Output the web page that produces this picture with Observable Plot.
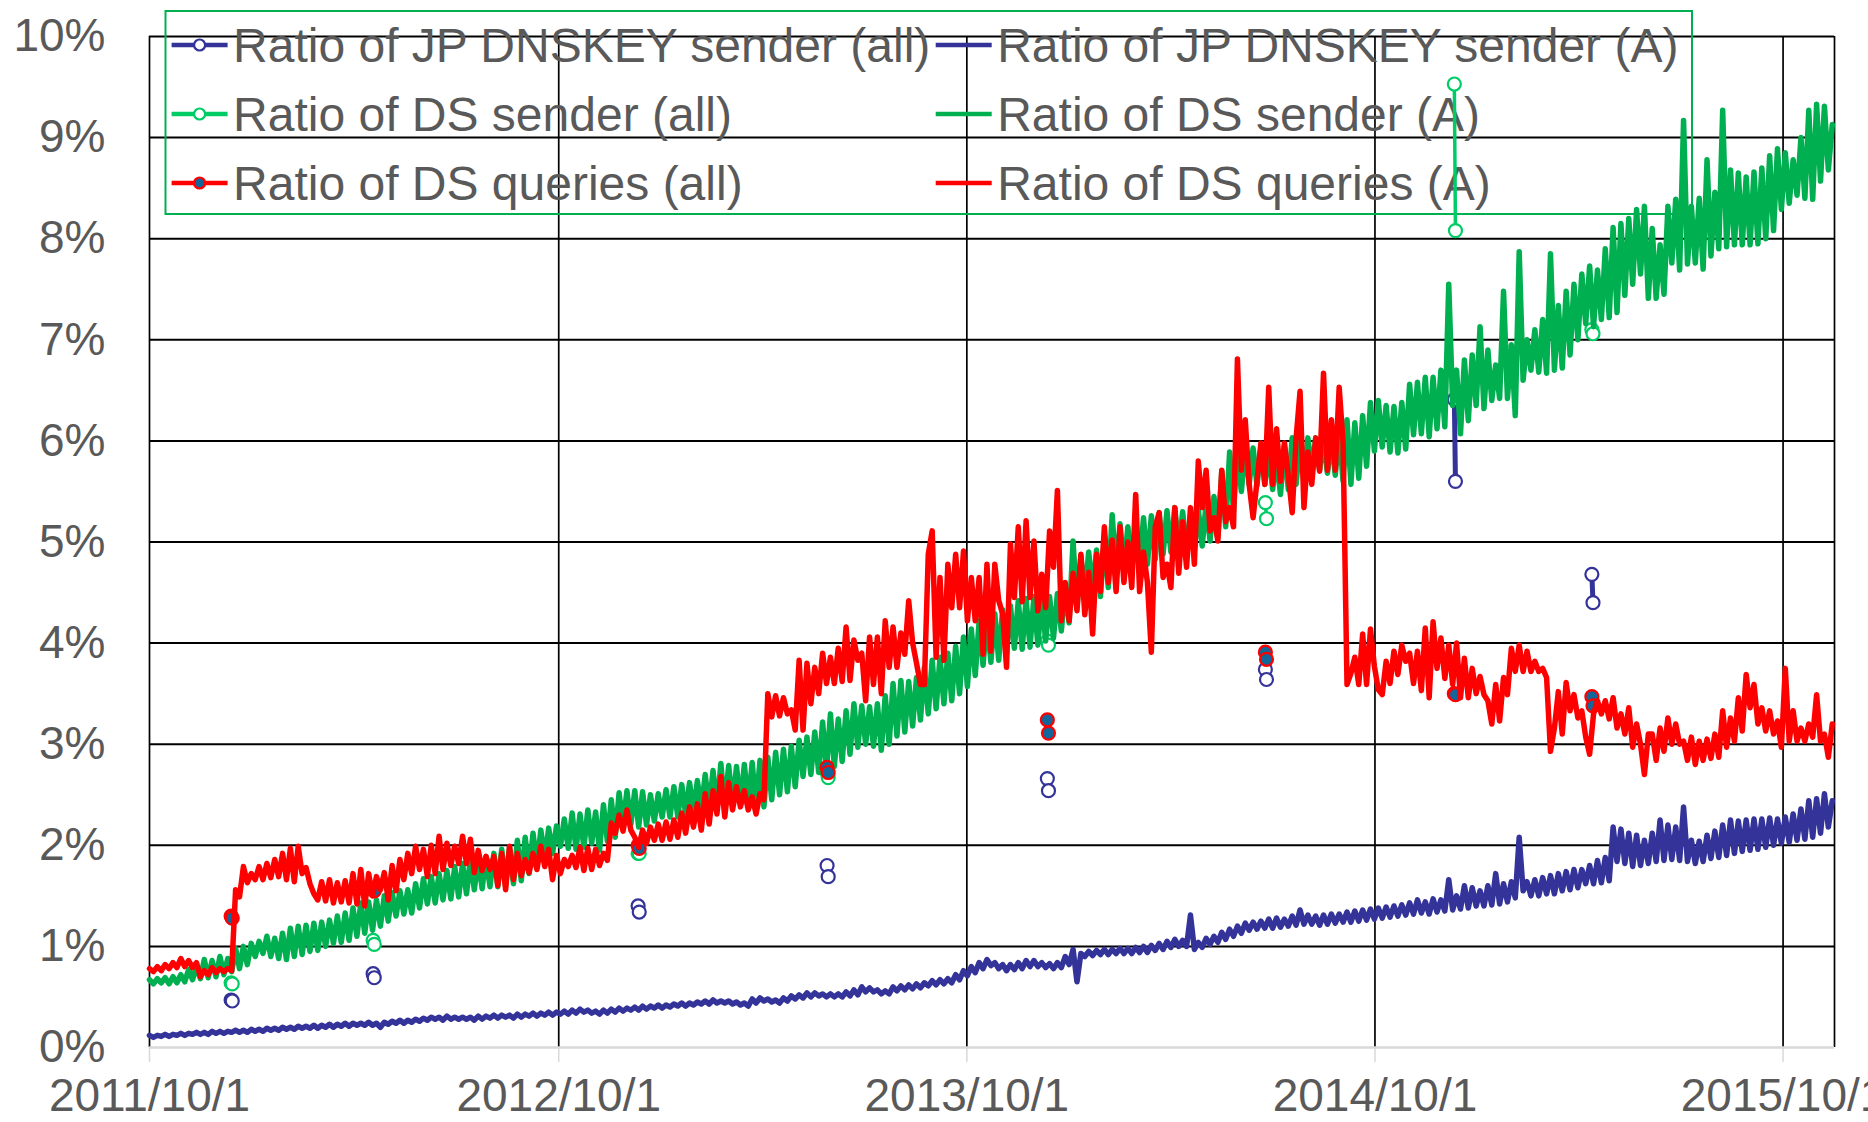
<!DOCTYPE html>
<html><head><meta charset="utf-8">
<script src="https://cdn.jsdelivr.net/npm/d3@7"></script>
<script src="https://cdn.jsdelivr.net/npm/@observablehq/plot@0.6"></script>
<style>
html,body{margin:0;padding:0;background:#fff;overflow:hidden;}
#wrap{position:relative;width:1868px;height:1122px;}
</style></head><body><div id="wrap"></div>
<script>
// ---- data (values in percent), one sample every 3.5 days (weekly peak / trough) ----
const startDate = "2011-10-01";
const stepDays = 3.5;
const xEnd = "2015-11-16";

const dsSenderA = [
0.67,0.63,0.68,0.64,0.69,0.63,0.70,0.64,0.72,0.65,0.77,0.67,0.80,0.68,0.87,0.69,0.86,0.70,0.90,0.72,
0.88,0.75,0.98,0.78,1.00,0.82,1.03,0.90,1.05,0.93,1.10,0.90,1.08,0.88,1.13,0.87,1.18,0.90,1.20,0.92,
1.21,0.95,1.23,0.96,1.24,1.00,1.26,1.03,1.30,1.04,1.33,1.06,1.38,1.10,1.43,1.13,1.44,1.16,1.46,1.20,
1.50,1.25,1.53,1.30,1.55,1.32,1.56,1.33,1.62,1.38,1.67,1.42,1.69,1.43,1.72,1.46,1.75,1.47,1.79,1.49,
1.82,1.52,1.86,1.56,1.87,1.57,1.89,1.59,1.92,1.59,1.96,1.60,1.98,1.62,2.05,1.65,2.08,1.72,2.12,1.80,
2.15,1.86,2.17,1.92,2.19,1.99,2.26,1.97,2.32,1.96,2.31,1.98,2.35,2.02,2.33,1.95,2.40,2.04,2.45,2.08,
2.52,2.20,2.54,2.21,2.54,2.18,2.53,2.20,2.50,2.24,2.51,2.28,2.55,2.28,2.58,2.28,2.60,2.31,2.62,2.33,
2.64,2.35,2.70,2.36,2.74,2.37,2.81,2.38,2.79,2.39,2.78,2.41,2.80,2.40,2.82,2.38,2.84,2.38,2.87,2.45,
2.92,2.50,2.95,2.53,2.98,2.58,3.04,2.68,3.07,2.70,3.12,2.72,3.22,2.75,3.30,2.78,3.25,2.83,3.33,2.90,
3.40,2.97,3.38,3.00,3.37,2.98,3.40,2.94,3.48,3.00,3.60,3.08,3.63,3.12,3.62,3.18,3.66,3.24,3.76,3.30,
3.83,3.35,3.86,3.40,3.90,3.43,3.97,3.50,4.06,3.57,4.14,3.68,4.22,3.78,4.25,3.81,4.29,3.83,4.33,3.90,
4.37,3.95,4.42,3.94,4.44,3.96,4.46,3.98,4.45,4.02,4.46,4.05,4.49,4.12,4.55,4.20,5.01,4.35,4.86,4.48,
4.90,4.50,4.92,4.46,5.05,4.55,5.27,4.68,5.18,4.72,5.15,4.74,5.20,4.76,5.24,4.78,5.26,4.83,5.29,4.88,
5.31,4.90,5.34,4.92,5.30,4.92,5.24,4.92,5.32,4.96,5.38,5.01,5.45,5.05,5.70,5.15,5.89,5.30,5.90,5.50,
5.94,5.57,5.93,5.56,5.94,5.57,5.90,5.52,5.84,5.47,5.95,5.52,6.03,5.57,6.02,5.63,6.03,5.70,6.03,5.71,
6.02,5.68,6.03,5.66,6.10,5.60,6.21,5.57,6.18,5.63,6.25,5.75,6.38,5.90,6.40,5.94,6.35,5.89,6.34,5.88,
6.38,5.92,6.56,6.06,6.58,6.07,6.63,6.04,6.63,6.12,6.70,6.14,7.55,6.35,6.70,6.07,6.80,6.20,6.85,6.35,
7.13,6.32,6.90,6.40,6.75,6.42,7.48,6.42,6.95,6.25,7.87,6.60,7.00,6.70,7.10,6.68,7.20,6.67,7.85,6.70,
7.34,6.72,7.48,6.85,7.55,7.00,7.65,7.16,7.73,7.13,7.69,7.20,7.90,7.22,8.11,7.27,8.15,7.44,8.20,7.55,
8.29,7.65,8.32,7.41,8.10,7.41,7.94,7.45,8.32,7.76,8.39,7.69,9.17,7.75,8.32,7.76,8.40,7.70,8.78,7.83,
8.46,7.90,9.27,7.92,8.68,7.94,8.65,7.94,8.61,7.94,8.66,7.95,8.70,8.00,8.82,8.08,8.89,8.29,8.85,8.35,
8.78,8.43,9.00,8.40,9.27,8.39,9.33,8.57,9.31,8.68,9.13];

const dsQueriesA = [
0.78,0.75,0.80,0.76,0.82,0.78,0.84,0.79,0.88,0.80,0.86,0.79,0.84,0.70,0.76,0.72,0.79,0.74,0.78,0.75,
0.78,0.76,1.56,1.49,1.79,1.63,1.72,1.66,1.79,1.66,1.82,1.68,1.86,1.69,1.92,1.66,1.97,1.64,1.99,1.72,
1.78,1.62,1.52,1.46,1.64,1.45,1.66,1.43,1.63,1.44,1.65,1.43,1.72,1.42,1.76,1.40,1.72,1.50,1.69,1.56,
1.73,1.46,1.80,1.55,1.86,1.66,1.92,1.72,1.99,1.76,1.96,1.69,2.00,1.72,2.09,1.76,2.02,1.80,1.99,1.82,
2.09,1.82,2.06,1.73,1.95,1.75,1.89,1.76,1.89,1.60,1.92,1.56,1.99,1.66,1.92,1.70,1.86,1.73,1.92,1.76,
1.99,1.79,1.96,1.66,1.90,1.72,1.86,1.79,1.90,1.78,1.98,1.75,1.97,1.76,1.96,1.80,1.92,1.85,2.22,2.12,
2.30,2.14,2.35,2.15,2.08,1.98,2.15,2.02,2.18,2.05,2.21,2.05,2.23,2.06,2.25,2.08,2.32,2.12,2.38,2.18,
2.41,2.15,2.51,2.21,2.54,2.31,2.68,2.28,2.62,2.35,2.58,2.38,2.54,2.35,2.48,2.31,2.51,2.45,3.50,3.27,
3.48,3.28,3.46,3.30,3.34,3.14,3.83,3.14,3.80,3.40,3.76,3.50,3.90,3.60,3.86,3.60,3.95,3.62,4.16,3.63,
4.03,3.83,3.90,3.43,4.06,3.59,4.06,3.50,4.22,3.76,4.16,3.76,4.10,3.89,4.42,4.00,3.80,3.59,3.59,4.88,
5.11,3.86,4.65,3.83,4.78,4.35,4.88,4.35,4.91,4.22,4.65,4.22,4.65,3.89,4.78,3.92,4.78,4.42,4.29,3.76,
4.98,4.45,5.15,4.41,5.21,4.45,5.01,4.32,4.68,4.35,5.11,4.75,5.51,4.22,4.60,4.22,4.69,4.32,4.88,4.28,
4.70,4.09,4.88,4.51,5.15,4.60,5.02,4.51,5.15,4.60,5.00,4.55,5.47,4.51,4.90,4.60,3.91,5.15,5.29,4.65,
4.78,4.55,5.34,4.69,5.20,4.75,5.34,4.78,5.80,5.34,5.71,5.11,5.24,5.01,5.71,5.20,5.34,5.15,6.81,5.71,
6.21,5.57,5.24,5.60,5.98,5.57,6.53,5.57,6.12,5.60,5.98,5.66,5.29,6.03,6.49,5.34,5.89,5.57,6.03,5.70,
6.67,5.71,6.21,5.71,6.53,5.98,3.59,3.70,3.86,3.59,4.09,3.59,4.14,3.77,3.54,3.49,3.82,3.60,3.92,3.69,
3.98,3.82,3.90,3.60,3.92,3.53,4.15,3.46,4.21,3.75,4.05,3.65,3.98,3.59,4.00,3.46,3.85,3.46,3.75,3.50,
3.67,3.49,3.43,3.20,3.59,3.23,3.66,3.49,3.95,3.72,3.98,3.72,3.92,3.72,3.82,3.72,3.75,3.66,2.93,3.16,
3.52,3.10,3.61,3.33,3.49,3.26,3.33,3.07,2.90,3.30,3.43,3.30,3.43,3.25,3.46,3.16,3.30,3.10,3.36,2.97,
3.20,3.00,2.70,3.10,3.10,2.84,3.16,2.93,3.26,3.00,3.20,3.00,3.03,2.84,3.07,2.80,3.03,2.84,3.05,2.86,
3.10,2.87,3.33,2.97,3.26,3.03,3.46,3.13,3.69,3.36,3.59,3.20,3.36,3.13,3.33,3.10,3.23,2.97,3.75,3.03,
3.33,3.03,3.16,3.03,3.20,3.07,3.49,3.03,3.10,2.87,3.20];

const dnskeyA = [
0.12,0.10,0.12,0.11,0.13,0.11,0.13,0.12,0.14,0.12,0.14,0.13,0.15,0.13,0.15,0.13,0.16,0.14,0.16,0.14,
0.16,0.15,0.17,0.15,0.17,0.15,0.18,0.16,0.18,0.16,0.19,0.17,0.19,0.17,0.20,0.18,0.20,0.18,0.21,0.19,
0.21,0.19,0.22,0.19,0.22,0.20,0.23,0.20,0.23,0.21,0.24,0.21,0.24,0.22,0.24,0.22,0.25,0.22,0.24,0.20,
0.25,0.23,0.26,0.24,0.27,0.24,0.27,0.25,0.28,0.26,0.29,0.27,0.30,0.28,0.30,0.27,0.31,0.28,0.30,0.28,
0.30,0.28,0.30,0.27,0.31,0.28,0.31,0.29,0.32,0.29,0.32,0.30,0.32,0.29,0.33,0.30,0.33,0.31,0.34,0.31,
0.34,0.32,0.35,0.32,0.35,0.33,0.36,0.33,0.37,0.34,0.38,0.35,0.37,0.34,0.36,0.33,0.37,0.34,0.38,0.35,
0.39,0.36,0.39,0.37,0.40,0.37,0.41,0.38,0.41,0.39,0.42,0.39,0.42,0.40,0.43,0.41,0.44,0.41,0.44,0.42,
0.45,0.43,0.46,0.43,0.47,0.44,0.46,0.44,0.46,0.43,0.45,0.42,0.44,0.41,0.48,0.44,0.49,0.46,0.48,0.45,
0.47,0.44,0.49,0.46,0.51,0.48,0.52,0.49,0.54,0.50,0.54,0.51,0.53,0.50,0.53,0.50,0.53,0.50,0.55,0.51,
0.57,0.52,0.60,0.55,0.59,0.55,0.57,0.53,0.56,0.53,0.60,0.56,0.61,0.57,0.62,0.58,0.63,0.59,0.64,0.61,
0.66,0.62,0.67,0.63,0.68,0.64,0.72,0.67,0.76,0.71,0.80,0.74,0.84,0.78,0.87,0.81,0.84,0.78,0.82,0.76,
0.82,0.77,0.84,0.78,0.86,0.80,0.86,0.80,0.84,0.79,0.83,0.78,0.84,0.79,0.90,0.82,0.97,0.65,0.93,0.90,
0.95,0.91,0.96,0.92,0.97,0.92,0.97,0.93,0.98,0.93,0.98,0.93,0.99,0.94,1.00,0.94,1.01,0.96,1.03,0.97,
1.05,0.99,1.07,1.00,1.06,1.00,1.31,0.97,1.04,0.99,1.08,1.02,1.10,1.04,1.14,1.07,1.17,1.10,1.20,1.13,
1.23,1.16,1.24,1.17,1.25,1.18,1.27,1.18,1.28,1.19,1.27,1.20,1.30,1.21,1.36,1.22,1.31,1.22,1.30,1.21,
1.31,1.22,1.32,1.23,1.32,1.24,1.34,1.24,1.35,1.25,1.36,1.26,1.37,1.27,1.38,1.28,1.39,1.29,1.40,1.30,
1.41,1.31,1.43,1.32,1.46,1.33,1.44,1.32,1.47,1.34,1.46,1.35,1.66,1.36,1.50,1.37,1.60,1.38,1.58,1.40,
1.55,1.40,1.60,1.41,1.72,1.42,1.62,1.44,1.64,1.48,2.08,1.55,1.64,1.50,1.66,1.50,1.68,1.52,1.70,1.52,
1.72,1.55,1.74,1.56,1.76,1.58,1.76,1.62,1.80,1.62,1.85,1.63,1.88,1.65,2.18,1.84,2.16,1.82,2.12,1.79,
2.10,1.80,2.05,1.82,2.12,1.84,2.25,1.85,2.20,1.86,2.18,1.85,2.38,1.84,2.05,1.82,2.04,1.84,2.10,1.87,
2.14,1.88,2.20,1.90,2.25,1.92,2.24,1.94,2.25,1.95,2.26,1.96,2.26,1.98,2.27,2.00,2.26,2.02,2.28,2.03,
2.31,2.05,2.36,2.06,2.44,2.08,2.46,2.12,2.51,2.18,2.44];

// "(all)" measurements: two consecutive days at each date
const pairDates = ["2011-12-13","2012-04-18","2012-12-11","2013-05-29","2013-12-12","2014-06-25","2014-12-11","2015-04-13"];
const dnskeyAll    = [[0.47,0.46],[0.73,0.69],[1.40,1.34],[1.80,1.69],[2.66,2.54],[3.74,3.64],[6.41,5.60],[4.68,4.40]];
const dsSenderAll  = [[0.64,0.63],[1.06,1.02],[1.92,1.92],[2.72,2.67],[4.02,3.98],[5.39,5.23],[9.53,8.08],[7.10,7.06]];
const dsQueriesAll = [[1.30,1.28],[1.57,1.55],[2.00,1.97],[2.77,2.72],[3.24,3.11],[3.91,3.84],[3.50,3.49],[3.47,3.38]];

const xTicks = ["2011-10-01","2012-10-01","2013-10-01","2014-10-01","2015-10-01"];
const yTicks = [0,1,2,3,4,5,6,7,8,9,10];
const seriesNames = [
  "Ratio of JP DNSKEY sender (all)", "Ratio of JP DNSKEY sender (A)",
  "Ratio of DS sender (all)", "Ratio of DS sender (A)",
  "Ratio of DS queries (all)", "Ratio of DS queries (A)"];

// ---- build tables ----
const DAY = 864e5;
const t0 = new Date(startDate).getTime();
const sampleDate = i => new Date(t0 + i * stepDays * DAY);
const toRows = arr => arr.map((v, i) => ({date: sampleDate(i), v}));
const pairRows = arr => arr.flatMap((p, k) => {
  const d = new Date(pairDates[k]);
  return [{date: d, v: p[0], pair: k}, {date: new Date(d.getTime() + DAY), v: p[1], pair: k}];
});
const red = toRows(dsQueriesA), green = toRows(dsSenderA), blue = toRows(dnskeyA);
const blueAll = pairRows(dnskeyAll), greenAll = pairRows(dsSenderAll), redAll = pairRows(dsQueriesAll);
const xTickDates = xTicks.map(d => new Date(d));
const fmtDate = d => `${d.getUTCFullYear()}/${d.getUTCMonth() + 1}/${d.getUTCDate()}`;

const C = {blue: "#333399", green: "#00B050", lightGreen: "#00CC66", red: "#FF0000", redFill: "#13659A", text: "#595959"};
const FONT = "'Liberation Sans', Arial, Helvetica, sans-serif";

const chart = Plot.plot({
  width: 1868, height: 1122,
  marginLeft: 149, marginRight: 34, marginTop: 36, marginBottom: 75,
  style: {fontFamily: FONT, fontSize: "46px", color: C.text, background: "white", overflow: "hidden"},
  x: {type: "utc", domain: [new Date(startDate), new Date(xEnd)]},
  y: {domain: [0, 10]},
  marks: [
    Plot.ruleY(yTicks.filter(d => d > 0), {stroke: "#000", strokeWidth: 2}),
    Plot.ruleX([...xTickDates, new Date(xEnd)], {stroke: "#000", strokeWidth: 1.7}),
    Plot.ruleY([0], {stroke: "#D9D9D9", strokeWidth: 2.5}),
    Plot.axisY(yTicks, {label: null, tickSize: 0, tickPadding: 44, tickFormat: d => d + "%", fontSize: 46}),
    Plot.axisX(xTickDates, {label: null, tickSize: 15, tickPadding: 16, tickFormat: fmtDate, fontSize: 46, stroke: "#D9D9D9", strokeWidth: 1.5}),
    Plot.line(blueAll, {x: "date", y: "v", z: "pair", stroke: C.blue, strokeWidth: 5}),
    Plot.dot(blueAll, {x: "date", y: "v", r: 6.5, fill: "white", stroke: C.blue, strokeWidth: 2.2}),
    Plot.lineY(blue, {x: "date", y: "v", stroke: C.blue, strokeWidth: 5.5, strokeLinejoin: "round"}),
    Plot.line(greenAll, {x: "date", y: "v", z: "pair", stroke: C.lightGreen, strokeWidth: 3.5}),
    Plot.dot(greenAll, {x: "date", y: "v", r: 6.5, fill: "white", stroke: C.lightGreen, strokeWidth: 2.2}),
    Plot.lineY(green, {x: "date", y: "v", stroke: C.green, strokeWidth: 5.5, strokeLinejoin: "round"}),
    Plot.line(redAll, {x: "date", y: "v", z: "pair", stroke: C.red, strokeWidth: 3.5}),
    Plot.dot(redAll, {x: "date", y: "v", r: 6.5, fill: C.redFill, stroke: C.red, strokeWidth: 2.2}),
    Plot.lineY(red, {x: "date", y: "v", stroke: C.red, strokeWidth: 5.5, strokeLinejoin: "round"})
  ]
});
document.getElementById("wrap").appendChild(chart);

// ---- legend (inside the plot area, as in the original) ----
const legendItems = [
  {name: seriesNames[0], col: 0, row: 0, stroke: C.blue, fill: "white", mstroke: C.blue},
  {name: seriesNames[1], col: 1, row: 0, stroke: C.blue},
  {name: seriesNames[2], col: 0, row: 1, stroke: C.lightGreen, fill: "white", mstroke: C.lightGreen},
  {name: seriesNames[3], col: 1, row: 1, stroke: C.green},
  {name: seriesNames[4], col: 0, row: 2, stroke: C.red, fill: C.redFill, mstroke: C.red},
  {name: seriesNames[5], col: 1, row: 2, stroke: C.red}
];
const colX = [171.6, 935.7], rowY = [45, 114, 183], swW = 56;
const lg = d3.create("svg:g").attr("class", "chart-legend");
lg.append("rect").attr("x", 165.5).attr("y", 11).attr("width", 1526.5).attr("height", 203)
  .attr("fill", "none").attr("stroke", C.green).attr("stroke-width", 2);
for (const it of legendItems) {
  const x0 = colX[it.col], y0 = rowY[it.row];
  lg.append("line").attr("x1", x0).attr("x2", x0 + swW).attr("y1", y0).attr("y2", y0)
    .attr("stroke", it.stroke).attr("stroke-width", 4.5);
  if (it.fill) lg.append("circle").attr("cx", x0 + swW / 2).attr("cy", y0).attr("r", 5.5)
    .attr("fill", it.fill).attr("stroke", it.mstroke).attr("stroke-width", 2.2);
  lg.append("text").attr("x", x0 + swW + 5.5).attr("y", y0 + 16.5)
    .attr("text-anchor", "start").attr("fill", C.text).attr("font-size", 48)
    .attr("font-family", FONT).text(it.name);
}
// legend goes beneath the data lines (first line mark = the DNSKEY "(all)" pairs)
const firstLine = Array.from(chart.children).find(n => n.getAttribute && n.getAttribute("aria-label") === "line");
if (firstLine) chart.insertBefore(lg.node(), firstLine); else chart.appendChild(lg.node());
</script>
</body></html>
